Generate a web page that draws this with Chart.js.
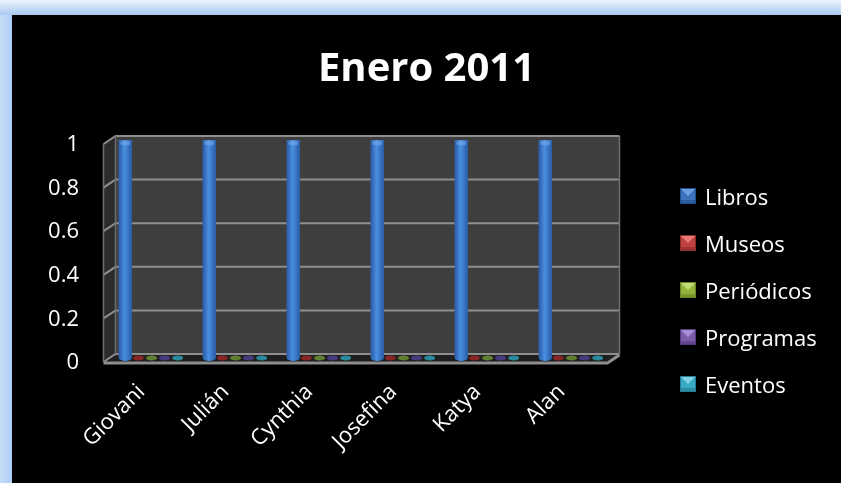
<!DOCTYPE html>
<html>
<head>
<meta charset="utf-8">
<title>Enero 2011</title>
<script src="https://cdn.jsdelivr.net/npm/chart.js@4.4.1/dist/chart.umd.min.js"></script>
<style>
  html, body { margin: 0; padding: 0; }
  body { width: 841px; height: 483px; overflow: hidden; position: relative;
         font-family: 'Open Sans', 'Noto Sans', sans-serif;
         background: linear-gradient(to right, #c6ddf8 0, #aecdf4 12px, #aecdf4 100%); }
  .borde { position: absolute; left: 0; top: 0; width: 841px; height: 15px;
           background: linear-gradient(to bottom, #edf3fc, #a8c9f2); }
  .panel { position: absolute; left: 12px; top: 15px; width: 829px; height: 468px; background: #000; }
  canvas { display: block; }
  #leyenda { position: absolute; left: 680px; top: 172.5px; margin: 0; padding: 0; list-style: none; }
  #leyenda li { height: 47px; display: flex; align-items: center; color: #fff; font-size: 22px; white-space: nowrap; }
  #leyenda li canvas { width: 16px; height: 16px; margin-right: 9px; }
</style>
</head>
<body>
<div class="borde"></div>
<div class="panel"><canvas id="grafica" width="829" height="468"></canvas></div>
<ul id="leyenda"></ul>
<script>
const nombres = ['Giovani', 'Julián', 'Cynthia', 'Josefina', 'Katya', 'Alan'];
const libros = [1, 1, 1, 1, 1, 1];
const museos = [0, 0, 0, 0, 0, 0];
const periodicos = [0, 0, 0, 0, 0, 0];
const programas = [0, 0, 0, 0, 0, 0];
const eventos = [0, 0, 0, 0, 0, 0];
const series = ['Libros', 'Museos', 'Periódicos', 'Programas', 'Eventos'];
const marcasY = [0, 0.2, 0.4, 0.6, 0.8, 1];

// colores: base, claro, oscuro (leyenda) y tono de la base en el piso
const colores = [
  { base: '#3b72bd', claro: '#6aa0e0', oscuro: '#244f8c', piso: '#2f6cc0' },
  { base: '#c0413f', claro: '#e57a76', oscuro: '#8a2a28', piso: '#8a2424' },
  { base: '#93b43c', claro: '#c2dc78', oscuro: '#6a8424', piso: '#5f8030' },
  { base: '#7a5cab', claro: '#a88fd2', oscuro: '#54397e', piso: '#4a3a80' },
  { base: '#3aa9c6', claro: '#7fd2e6', oscuro: '#247a92', piso: '#2a8a9c' }
];

Chart.defaults.font.family = "'Open Sans', 'Noto Sans', sans-serif";
Chart.defaults.color = '#ffffff';

function marcaLeyenda(c) {
  const cv = document.createElement('canvas');
  cv.width = 16; cv.height = 16;
  const g = cv.getContext('2d');
  g.fillStyle = c.oscuro; g.fillRect(0, 0, 16, 16);
  g.fillStyle = c.base; g.fillRect(1, 1, 14, 14);
  g.fillStyle = c.claro;
  g.beginPath(); g.moveTo(1, 1); g.lineTo(15, 1); g.lineTo(8, 8); g.closePath(); g.fill();
  g.fillStyle = c.oscuro; g.globalAlpha = 0.6;
  g.fillRect(1, 12, 14, 3);
  return cv;
}

const valores = [libros, museos, periodicos, programas, eventos];

// paredes, piso y líneas de división en perspectiva
const caja3d = {
  id: 'caja3d',
  beforeDatasetsDraw(chart) {
    const { ctx, chartArea: a, scales: { y } } = chart;
    const dx = 6, dy = 4;
    const L = a.left, R = a.right;
    const T = y.getPixelForValue(marcasY[marcasY.length - 1]);
    const B = y.getPixelForValue(marcasY[0]);
    ctx.save();
    ctx.fillStyle = '#3e3e3e';
    ctx.fillRect(L + dx, T - dy, R - L, B - T);
    ctx.fillStyle = '#2c2c2c';
    ctx.beginPath();
    ctx.moveTo(L - dx, T + dy); ctx.lineTo(L + dx, T - dy);
    ctx.lineTo(L + dx, B - dy); ctx.lineTo(L - dx, B + dy);
    ctx.closePath(); ctx.fill();
    ctx.fillStyle = '#1f1f1f';
    ctx.beginPath();
    ctx.moveTo(L - dx, B + dy); ctx.lineTo(L + dx, B - dy);
    ctx.lineTo(R + dx, B - dy); ctx.lineTo(R - dx, B + dy);
    ctx.closePath(); ctx.fill();

    ctx.strokeStyle = '#8e8e8e';
    ctx.lineWidth = 2;
    marcasY.forEach(v => {
      const yy = y.getPixelForValue(v);
      ctx.beginPath();
      ctx.moveTo(L - dx, yy + dy); ctx.lineTo(L + dx, yy - dy); ctx.lineTo(R + dx, yy - dy);
      ctx.stroke();
    });
    ctx.strokeStyle = '#6e6e6e';
    ctx.lineWidth = 1.5;
    ctx.beginPath();
    ctx.moveTo(L - dx, T + dy); ctx.lineTo(L - dx, B + dy);
    ctx.moveTo(L + dx, T - dy); ctx.lineTo(L + dx, B - dy);
    ctx.moveTo(R + dx, T - dy); ctx.lineTo(R + dx, B - dy);
    ctx.stroke();
    ctx.strokeStyle = '#8e8e8e';
    ctx.lineWidth = 3;
    ctx.beginPath();
    ctx.moveTo(L - dx, B + dy + 1); ctx.lineTo(R - dx, B + dy + 1); ctx.lineTo(R + dx, B - dy + 1);
    ctx.stroke();
    ctx.restore();
  },
  afterDatasetsDraw(chart) {
    const { ctx } = chart;
    ctx.save();
    chart.data.datasets.forEach((ds, i) => {
      const c = colores[i];
      chart.getDatasetMeta(i).data.forEach((el, j) => {
        const { x, y, base, width } = el.getProps(['x', 'y', 'base', 'width'], true);
        if (ds.data[j] === 0) {
          ctx.fillStyle = c.piso;
          ctx.beginPath();
          ctx.ellipse(x, base, width * 0.42, 2.5, 0, 0, Math.PI * 2);
          ctx.fill();
          return;
        }
        // cilindro con brillo central
        const l = x - width / 2, r = x + width / 2, ry = 3;
        const g = ctx.createLinearGradient(l, 0, r, 0);
        g.addColorStop(0, '#2a5ba6');
        g.addColorStop(0.45, '#4a8fe2');
        g.addColorStop(1, '#2a5aa4');
        ctx.fillStyle = g;
        ctx.beginPath();
        ctx.moveTo(l, y + ry);
        ctx.ellipse(x, y + ry, width / 2, ry, 0, Math.PI, 0);
        ctx.lineTo(r, base);
        ctx.ellipse(x, base, width / 2, ry, 0, 0, Math.PI);
        ctx.closePath();
        ctx.fill();
        ctx.fillStyle = 'rgba(120,175,240,0.55)';
        ctx.beginPath();
        ctx.ellipse(x, y + ry, width / 2 - 1.5, ry - 0.5, 0, 0, Math.PI * 2);
        ctx.fill();
      });
    });
    ctx.restore();
  }
};

const grafica = new Chart(document.getElementById('grafica'), {
  type: 'bar',
  data: {
    labels: nombres,
    datasets: series.map((s, i) => ({
      label: s,
      data: valores[i],
      backgroundColor: colores[i].base,
      categoryPercentage: 0.78,
      barPercentage: 1
    }))
  },
  options: {
    responsive: false,
    animation: false,
    layout: { padding: 0 },
    scales: {
      x: {
        grid: { display: false, drawTicks: false },
        border: { display: false },
        ticks: { color: '#fff', font: { size: 22 }, minRotation: 45, maxRotation: 45, padding: 21, labelOffset: -10 },
        afterFit: (s) => { s.height = 125; }
      },
      y: {
        min: 0, max: 1,
        grid: { display: false, drawTicks: false },
        border: { display: false },
        afterBuildTicks: (s) => { s.ticks = marcasY.map(v => ({ value: v })); },
        ticks: { color: '#fff', font: { size: 22 }, padding: 30.5, labelOffset: 5, callback: (v) => String(v) },
        afterFit: (s) => { s.width = 97.5; }
      },
      // franja vacía a la derecha donde va la leyenda
      hueco: {
        type: 'linear', position: 'right', display: true,
        grid: { display: false, drawTicks: false },
        border: { display: false },
        ticks: { display: false },
        afterFit: (s) => { s.width = 227.5; }
      }
    },
    plugins: {
      title: {
        display: true, text: 'Enero 2011', color: '#fff',
        font: { size: 40, weight: 'bold' },
        padding: { top: 31, bottom: 46 }
      },
      legend: { display: false },
      tooltip: { enabled: false }
    }
  },
  plugins: [caja3d]
});

// leyenda a la derecha, una fila por serie
const ley = document.getElementById('leyenda');
grafica.data.datasets.forEach((ds, i) => {
  const li = document.createElement('li');
  li.appendChild(marcaLeyenda(colores[i]));
  li.appendChild(document.createTextNode(ds.label));
  ley.appendChild(li);
});
</script>
</body>
</html>
